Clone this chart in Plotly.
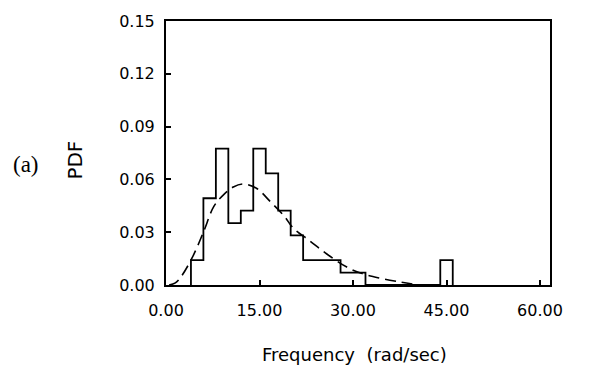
import plotly.graph_objects as go

# Histogram bins (rad/sec) and PDF heights
bin_edges = [4, 6, 8, 10, 12, 14, 16, 18, 20, 22, 24, 26, 28, 30, 32,
             34, 36, 38, 40, 42, 44, 46]
pdf_heights = [0.0141, 0.0493, 0.0775, 0.0352, 0.0423, 0.0775, 0.0634,
               0.0423, 0.0282, 0.0141, 0.0141, 0.0141, 0.0070, 0.0070,
               0.0, 0.0, 0.0, 0.0, 0.0, 0.0, 0.0141]

# Fitted density curve (dashed)
fit_x = [0.5, 1.5, 2.4, 4.2, 6.0, 7.7, 9.3, 10.8, 12.4, 14.5, 16.7, 19.0,
         20.4, 23.1, 25.8, 29.0, 31.2, 34.2, 37.6, 40.5]
fit_y = [0.0, 0.0012, 0.0046, 0.0155, 0.030, 0.0448, 0.0515, 0.0557, 0.0574,
         0.0550, 0.0475, 0.0390, 0.0324, 0.0250, 0.0176, 0.0102, 0.0068,
         0.0040, 0.0017, 0.0]

x_ticks = [0, 15, 30, 45, 60]
x_tick_labels = ["0.00", "15.00", "30.00", "45.00", "60.00"]
y_ticks = [0.0, 0.03, 0.06, 0.09, 0.12, 0.15]
y_tick_labels = ["0.00", "0.03", "0.06", "0.09", "0.12", "0.15"]

# step outline of the histogram
step_x = [bin_edges[0], bin_edges[0]] + bin_edges[1:-1] + [bin_edges[-1]]
step_y = [0.0] + pdf_heights + [0.0]

fig = go.Figure()
fig.add_trace(go.Scatter(x=step_x, y=step_y, mode="lines",
                         line=dict(shape="hv", color="black", width=1.8),
                         showlegend=False))
fig.add_trace(go.Scatter(x=fit_x, y=fit_y, mode="lines",
                         line=dict(shape="spline", color="black", width=1.6,
                                   dash="11px,6px"),
                         showlegend=False))

tick_font = dict(family="DejaVu Sans", size=16, color="black")
fig.update_layout(
    width=591, height=377,
    margin=dict(l=166, r=41, t=15, b=92),
    plot_bgcolor="white", paper_bgcolor="white",
    showlegend=False,
    xaxis=dict(range=[0, 61.6], tickvals=x_ticks, ticktext=x_tick_labels,
               ticks="inside", ticklen=5, tickwidth=1.5, tickcolor="black",
               showline=True, linecolor="black", linewidth=2, mirror=True,
               showgrid=False, zeroline=False, tickfont=tick_font,
               ticklabelstandoff=10),
    yaxis=dict(range=[0, 0.15], tickvals=y_ticks, ticktext=y_tick_labels,
               ticks="inside", ticklen=5, tickwidth=1.5, tickcolor="black",
               showline=True, linecolor="black", linewidth=2, mirror=True,
               showgrid=False, zeroline=False, tickfont=tick_font,
               ticklabelstandoff=6),
    annotations=[
        dict(text="Frequency\u00a0\u00a0(rad/sec)", xref="paper", yref="paper",
             x=0.49, y=-0.265, xanchor="center", yanchor="middle",
             showarrow=False,
             font=dict(family="DejaVu Sans", size=18, color="black")),
        dict(text="PDF", xref="paper", yref="paper", x=-0.237, y=0.475,
             xanchor="center", yanchor="middle", textangle=-90,
             showarrow=False,
             font=dict(family="DejaVu Sans", size=20, color="black")),
        dict(text="(a)", xref="paper", yref="paper", x=-0.365, y=0.455,
             xanchor="center", yanchor="middle", showarrow=False,
             font=dict(family="Liberation Serif", size=23, color="black")),
    ],
)

fig.write_html("out.html")
